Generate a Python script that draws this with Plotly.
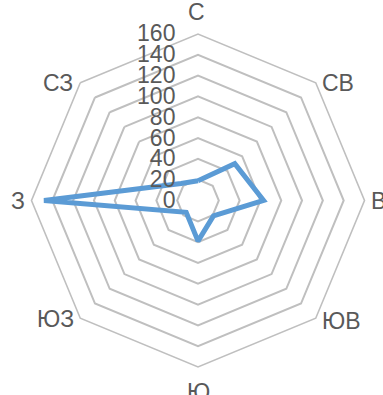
import math
import plotly.graph_objects as go

# Wind directions (compass points) and observed values
directions = ["С", "СВ", "В", "ЮВ", "Ю", "ЮЗ", "З", "СЗ"]
values = [19, 50, 63, 21, 39, 16, 148, 23]

# Radial scale
r_ticks = [0, 20, 40, 60, 80, 100, 120, 140, 160]
r_max = 160

text_color = "#595959"
grid_color = "#BFBFBF"
line_color = "#5B9BD5"
font_family = "Liberation Sans, Arial, sans-serif"

fig = go.Figure()
fig.add_trace(go.Scatterpolar(
    r=values + values[:1],
    theta=directions + directions[:1],
    mode="lines",
    line=dict(color=line_color, width=5),
    hoverinfo="skip",
))

W, H = 383, 395
cx, cy, rad = 198, 200.5, 166.5

# Direction labels sit just outside the outer ring's vertices
label_style = {
    "С":  dict(xanchor="center", yanchor="bottom", xshift=-2, yshift=7),
    "СВ": dict(xanchor="left", yanchor="middle", xshift=4, yshift=0),
    "В":  dict(xanchor="left", yanchor="middle", xshift=4, yshift=0),
    "ЮВ": dict(xanchor="left", yanchor="middle", xshift=4, yshift=-3),
    "Ю":  dict(xanchor="center", yanchor="top", xshift=0, yshift=-10),
    "ЮЗ": dict(xanchor="right", yanchor="middle", xshift=-4, yshift=-1),
    "З":  dict(xanchor="right", yanchor="middle", xshift=-4, yshift=0),
    "СЗ": dict(xanchor="right", yanchor="middle", xshift=-5, yshift=0),
}
annotations = []
for i, name in enumerate(directions):
    ang = math.radians(90 - 45 * i)
    vx = cx + rad * math.cos(ang)
    vy = cy - rad * math.sin(ang)
    annotations.append(dict(
        x=vx / W, y=1 - vy / H, xref="paper", yref="paper",
        text=name, showarrow=False,
        font=dict(family=font_family, size=23, color=text_color),
        **label_style[name],
    ))

fig.update_layout(
    width=W, height=H,
    margin=dict(l=0, r=0, t=0, b=0),
    paper_bgcolor="white",
    showlegend=False,
    font=dict(family=font_family, color=text_color, size=20),
    annotations=annotations,
    polar=dict(
        domain=dict(
            x=[(cx - rad) / W, (cx + rad) / W],
            y=[(H - cy - rad) / H, (H - cy + rad) / H],
        ),
        gridshape="linear",
        bgcolor="white",
        radialaxis=dict(
            range=[0, r_max],
            tickvals=r_ticks,
            ticktext=[str(v) for v in r_ticks],
            angle=90,
            side="counterclockwise",
            tickangle=90,
            showline=False,
            ticks="outside",
            ticklen=14,
            tickcolor="rgba(0,0,0,0)",
            gridcolor=grid_color,
            gridwidth=1.6,
            tickfont=dict(size=23, color=text_color),
        ),
        angularaxis=dict(
            rotation=90,
            direction="clockwise",
            showgrid=False,
            showline=True,
            linecolor=grid_color,
            linewidth=1.6,
            ticks="",
            showticklabels=False,
        ),
    ),
)

fig.write_html("out.html")
